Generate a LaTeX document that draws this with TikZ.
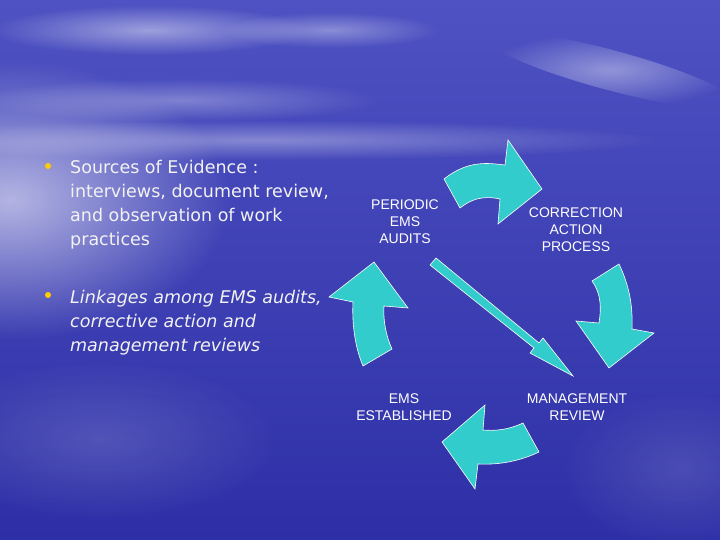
\documentclass[tikz,border=0pt]{standalone}
\usepackage{fontspec}
\setmainfont{DejaVu Sans}
\newfontfamily\cyclefont{Liberation Sans}
\usetikzlibrary{fadings}
\definecolor{skytop}{HTML}{4E52C2}
\definecolor{seamid}{HTML}{3839B0}
\definecolor{seabot}{HTML}{2E2FA6}
\definecolor{arrowfill}{HTML}{33CCCC}
\definecolor{bulletdot}{HTML}{FFCC00}
\definecolor{slidetext}{HTML}{F2F2F2}
\tikzfading[name=soft glow, inner color=transparent!0, outer color=transparent!100]
\tikzset{
  blockarrow/.style={fill=arrowfill, draw=white, line width=0.6pt, line join=miter},
  steplabel/.style={font=\cyclefont\fontsize{14}{17}\selectfont, text=white, align=center, anchor=north, inner sep=0pt},
  bullettext/.style={font=\fontsize{17.5}{24}\selectfont, text=slidetext, align=left, anchor=north west, inner sep=0pt},
  haze/.style={fill=white, path fading=soft glow}
}

\begin{document}
\begin{tikzpicture}[x=1pt, y=-1pt]
  \path[use as bounding box] (0,0) rectangle (720,540);
  % background: sky over sea
  \shade[top color=skytop, middle color=seamid, bottom color=seabot] (0,0) rectangle (720,540);
  \begin{scope}
    \clip (0,0) rectangle (720,540);
    \fill[haze, fill opacity=0.6] (10,200) ellipse [x radius=220, y radius=140];
    \fill[haze, fill opacity=0.35] (260,140) ellipse [x radius=400, y radius=20];
    \fill[haze, fill opacity=0.45] (150,30) ellipse [x radius=160, y radius=25];
    \fill[haze, fill opacity=0.35] (330,30) ellipse [x radius=110, y radius=18];
    \fill[haze, fill opacity=0.4, rotate around={-15:(610,70)}] (610,70) ellipse [x radius=130, y radius=20];
    \fill[haze, fill opacity=0.3] (180,100) ellipse [x radius=200, y radius=22];
    \fill[haze, fill opacity=0.15] (100,440) ellipse [x radius=180, y radius=80];
    \fill[haze, fill opacity=0.12] (680,470) ellipse [x radius=120, y radius=80];
  \end{scope}

  % bullet points
  \fill[bulletdot] (48,166) circle (3);
  \node[bullettext] (evidence) at (70,160) {Sources of Evidence :\\
    interviews, document review,\\
    and observation of work\\
    practices};
  \fill[bulletdot] (48,295) circle (3);
  \node[bullettext, font=\fontsize{17.5}{24}\selectfont\itshape] (linkages) at (70,290) {Linkages among EMS audits,\\
    corrective action and\\
    management reviews};

  % cycle labels
  \node[steplabel] (audits) at (405,200) {PERIODIC\\EMS\\AUDITS};
  \node[steplabel] (correction) at (576,208) {CORRECTION\\ACTION\\PROCESS};
  \node[steplabel] (review) at (577,394) {MANAGEMENT\\REVIEW};
  \node[steplabel] (established) at (404,394) {EMS\\ESTABLISHED};

  % curved block arrows
  \draw[blockarrow] (444,179) .. controls (468,160) and (488,163) .. (505,165) -- (508,140) -- (542,189)
    -- (498,224) -- (500,199) .. controls (482,195) and (470,200) .. (460,208) -- cycle;
  \draw[blockarrow] (592,281) .. controls (602,295) and (601,310) .. (599,323) -- (576,321) -- (609,368)
    -- (654,333) -- (632,329) .. controls (633,305) and (629,285) .. (619,264) -- cycle;
  \draw[blockarrow] (523,423) .. controls (508,430) and (495,431) .. (483,430) -- (485,405) -- (442,442)
    -- (475,489) -- (478,464) .. controls (500,465) and (520,461) .. (539,452) -- cycle;
  \draw[blockarrow] (363,366) .. controls (354,345) and (352,320) .. (353,302) -- (329,297) -- (374,262)
    -- (408,308) -- (384,306) .. controls (383,320) and (386,336) .. (392,349) -- cycle;

  % straight arrow from audits to review
  \draw[blockarrow] (436,258) -- (539,343) -- (543,338) -- (573,376) -- (530,353) -- (534,348) -- (430,265) -- cycle;
\end{tikzpicture}
\end{document}
